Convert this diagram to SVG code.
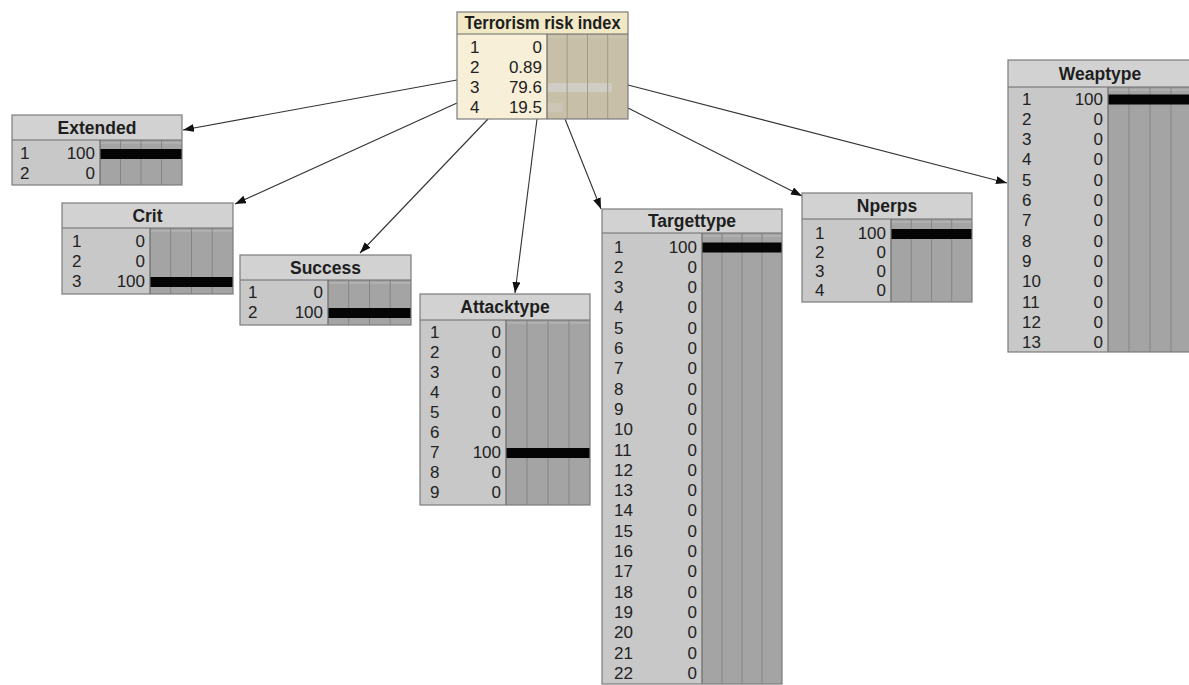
<svg xmlns="http://www.w3.org/2000/svg" width="1189" height="685" viewBox="0 0 1189 685">
<defs>
<marker id="ah" markerUnits="userSpaceOnUse" markerWidth="12" markerHeight="10" refX="11" refY="4" orient="auto">
<path d="M0,0 L11,4 L0,8 z" fill="#111"/>
</marker>
<style>
.t{font-family:"Liberation Sans",Arial,sans-serif;font-weight:bold;font-size:17.5px;text-anchor:middle;fill:#1e1e1e}
.s{font-family:"Liberation Sans",Arial,sans-serif;font-size:17px;fill:#222}
.v{font-family:"Liberation Sans",Arial,sans-serif;font-size:17px;fill:#222;text-anchor:end}
.hd{fill:#d2d2d2}
.bd{fill:#c8c8c8}
.bar{fill:#a4a4a4}
.hd2{fill:#f1e8c6}
.bd2{fill:#f7efd7}
.bar2{fill:#c7bfa7}
.g{stroke:#858585;stroke-width:1}
.top{stroke:#bcbcbc;stroke-width:1}
.sep{stroke:#6a6a6a;stroke-width:1.2}
.fr{fill:none;stroke:#7c7c7c;stroke-width:1.2}
.full{fill:#050505}
.lt{fill:#d0cdc6}
.edge{stroke:#333;stroke-width:1.1;fill:none;marker-end:url(#ah)}
</style>
</defs>
<rect width="1189" height="685" fill="#ffffff"/>

<g id="connectors">
<line class="edge" x1="457" y1="80" x2="183" y2="130"/>
<line class="edge" x1="457" y1="103" x2="235" y2="204"/>
<line class="edge" x1="488" y1="119" x2="360" y2="253"/>
<line class="edge" x1="537" y1="119" x2="515" y2="293"/>
<line class="edge" x1="565" y1="119" x2="601" y2="209"/>
<line class="edge" x1="628" y1="108" x2="802" y2="196"/>
<line class="edge" x1="628" y1="85" x2="1007" y2="183"/>
</g>

<g id="terrorism-risk-index">
<rect x="457" y="12" width="171" height="107" class="bd2"/>
<rect x="457" y="12" width="171" height="22" class="hd2"/>
<rect x="547" y="34" width="81" height="85" class="bar2"/>
<line class="top" x1="547" y1="37" x2="628" y2="37" style="stroke:#d2cbb6"/>
<rect x="547" y="83" width="64.5" height="9" class="lt"/>
<rect x="547" y="103" width="15.8" height="9" class="lt" style="opacity:0.5"/>
<line class="g" x1="567.2" y1="34" x2="567.2" y2="119" style="stroke:#a39b85"/>
<line class="g" x1="587.5" y1="34" x2="587.5" y2="119" style="stroke:#a39b85"/>
<line class="g" x1="607.7" y1="34" x2="607.7" y2="119" style="stroke:#a39b85"/>
<line class="sep" x1="457" y1="34" x2="628" y2="34"/>
<line class="sep" x1="547" y1="34" x2="547" y2="119"/>
<rect x="457" y="12" width="171" height="107" class="fr"/>
<text class="t" x="542.5" y="29" textLength="156" lengthAdjust="spacingAndGlyphs">Terrorism risk index</text>
<text class="s" x="470" y="53">1</text><text class="v" x="542" y="53">0</text>
<text class="s" x="470" y="73">2</text><text class="v" x="542" y="73">0.89</text>
<text class="s" x="470" y="93">3</text><text class="v" x="542" y="93">79.6</text>
<text class="s" x="470" y="113">4</text><text class="v" x="542" y="113">19.5</text>
</g>

<g id="extended">
<rect x="12" y="115" width="170" height="70" class="bd"/>
<rect x="12" y="115" width="170" height="25" class="hd"/>
<rect x="100" y="140" width="82" height="45" class="bar"/>
<line class="top" x1="100" y1="143" x2="182" y2="143"/>
<line class="g" x1="120.5" y1="140" x2="120.5" y2="185"/>
<line class="g" x1="141" y1="140" x2="141" y2="185"/>
<line class="g" x1="161.5" y1="140" x2="161.5" y2="185"/>
<rect x="100" y="149" width="82" height="10" class="full"/>
<line class="sep" x1="12" y1="140" x2="182" y2="140"/>
<line class="sep" x1="100" y1="140" x2="100" y2="185"/>
<rect x="12" y="115" width="170" height="70" class="fr"/>
<text class="t" x="97" y="133.5">Extended</text>
<text class="s" x="20" y="159">1</text><text class="v" x="95" y="159">100</text>
<text class="s" x="20" y="179">2</text><text class="v" x="95" y="179">0</text>
</g>

<g id="crit">
<rect x="62" y="203" width="171" height="91" class="bd"/>
<rect x="62" y="203" width="171" height="25" class="hd"/>
<rect x="150" y="228" width="83" height="66" class="bar"/>
<line class="top" x1="150" y1="231" x2="233" y2="231"/>
<line class="g" x1="170.7" y1="228" x2="170.7" y2="294"/>
<line class="g" x1="191.5" y1="228" x2="191.5" y2="294"/>
<line class="g" x1="212.2" y1="228" x2="212.2" y2="294"/>
<rect x="150" y="277" width="83" height="10" class="full"/>
<line class="sep" x1="62" y1="228" x2="233" y2="228"/>
<line class="sep" x1="150" y1="228" x2="150" y2="294"/>
<rect x="62" y="203" width="171" height="91" class="fr"/>
<text class="t" x="147.5" y="221.5">Crit</text>
<text class="s" x="72" y="247">1</text><text class="v" x="145" y="247">0</text>
<text class="s" x="72" y="267">2</text><text class="v" x="145" y="267">0</text>
<text class="s" x="72" y="287">3</text><text class="v" x="145" y="287">100</text>
</g>

<g id="success">
<rect x="240" y="255" width="171" height="70" class="bd"/>
<rect x="240" y="255" width="171" height="25" class="hd"/>
<rect x="328" y="280" width="83" height="45" class="bar"/>
<line class="top" x1="328" y1="283" x2="411" y2="283"/>
<line class="g" x1="348.7" y1="280" x2="348.7" y2="325"/>
<line class="g" x1="369.5" y1="280" x2="369.5" y2="325"/>
<line class="g" x1="390.2" y1="280" x2="390.2" y2="325"/>
<rect x="328" y="308" width="83" height="10" class="full"/>
<line class="sep" x1="240" y1="280" x2="411" y2="280"/>
<line class="sep" x1="328" y1="280" x2="328" y2="325"/>
<rect x="240" y="255" width="171" height="70" class="fr"/>
<text class="t" x="325.5" y="273.5">Success</text>
<text class="s" x="248" y="298">1</text><text class="v" x="323" y="298">0</text>
<text class="s" x="248" y="318">2</text><text class="v" x="323" y="318">100</text>
</g>

<g id="attacktype">
<rect x="420" y="294" width="170" height="211" class="bd"/>
<rect x="420" y="294" width="170" height="26" class="hd"/>
<rect x="506" y="320" width="84" height="185" class="bar"/>
<line class="top" x1="506" y1="323" x2="590" y2="323"/>
<line class="g" x1="527" y1="320" x2="527" y2="505"/>
<line class="g" x1="548" y1="320" x2="548" y2="505"/>
<line class="g" x1="569" y1="320" x2="569" y2="505"/>
<rect x="506" y="448" width="84" height="10" class="full"/>
<line class="sep" x1="420" y1="320" x2="590" y2="320"/>
<line class="sep" x1="506" y1="320" x2="506" y2="505"/>
<rect x="420" y="294" width="170" height="211" class="fr"/>
<text class="t" x="505" y="313">Attacktype</text>
<text class="s" x="430" y="338">1</text><text class="v" x="501" y="338">0</text>
<text class="s" x="430" y="358">2</text><text class="v" x="501" y="358">0</text>
<text class="s" x="430" y="378">3</text><text class="v" x="501" y="378">0</text>
<text class="s" x="430" y="398">4</text><text class="v" x="501" y="398">0</text>
<text class="s" x="430" y="418">5</text><text class="v" x="501" y="418">0</text>
<text class="s" x="430" y="438">6</text><text class="v" x="501" y="438">0</text>
<text class="s" x="430" y="458">7</text><text class="v" x="501" y="458">100</text>
<text class="s" x="430" y="478">8</text><text class="v" x="501" y="478">0</text>
<text class="s" x="430" y="498">9</text><text class="v" x="501" y="498">0</text>
</g>

<g id="targettype">
<rect x="602" y="209" width="180" height="475" class="bd"/>
<rect x="602" y="209" width="180" height="24" class="hd"/>
<rect x="702" y="233" width="80" height="451" class="bar"/>
<line class="top" x1="702" y1="236" x2="782" y2="236"/>
<line class="g" x1="722" y1="233" x2="722" y2="684"/>
<line class="g" x1="742" y1="233" x2="742" y2="684"/>
<line class="g" x1="762" y1="233" x2="762" y2="684"/>
<rect x="702" y="242.5" width="80" height="10" class="full"/>
<line class="sep" x1="602" y1="233" x2="782" y2="233"/>
<line class="sep" x1="702" y1="233" x2="702" y2="684"/>
<rect x="602" y="209" width="180" height="475" class="fr"/>
<text class="t" x="692" y="227">Targettype</text>
<text class="s" x="614" y="252.5">1</text><text class="v" x="697" y="252.5">100</text>
<text class="s" x="614" y="272.8">2</text><text class="v" x="697" y="272.8">0</text>
<text class="s" x="614" y="293.1">3</text><text class="v" x="697" y="293.1">0</text>
<text class="s" x="614" y="313.4">4</text><text class="v" x="697" y="313.4">0</text>
<text class="s" x="614" y="333.7">5</text><text class="v" x="697" y="333.7">0</text>
<text class="s" x="614" y="354">6</text><text class="v" x="697" y="354">0</text>
<text class="s" x="614" y="374.3">7</text><text class="v" x="697" y="374.3">0</text>
<text class="s" x="614" y="394.6">8</text><text class="v" x="697" y="394.6">0</text>
<text class="s" x="614" y="414.9">9</text><text class="v" x="697" y="414.9">0</text>
<text class="s" x="614" y="435.2">10</text><text class="v" x="697" y="435.2">0</text>
<text class="s" x="614" y="455.5">11</text><text class="v" x="697" y="455.5">0</text>
<text class="s" x="614" y="475.8">12</text><text class="v" x="697" y="475.8">0</text>
<text class="s" x="614" y="496.1">13</text><text class="v" x="697" y="496.1">0</text>
<text class="s" x="614" y="516.4">14</text><text class="v" x="697" y="516.4">0</text>
<text class="s" x="614" y="536.7">15</text><text class="v" x="697" y="536.7">0</text>
<text class="s" x="614" y="557">16</text><text class="v" x="697" y="557">0</text>
<text class="s" x="614" y="577.3">17</text><text class="v" x="697" y="577.3">0</text>
<text class="s" x="614" y="597.6">18</text><text class="v" x="697" y="597.6">0</text>
<text class="s" x="614" y="617.9">19</text><text class="v" x="697" y="617.9">0</text>
<text class="s" x="614" y="638.2">20</text><text class="v" x="697" y="638.2">0</text>
<text class="s" x="614" y="658.5">21</text><text class="v" x="697" y="658.5">0</text>
<text class="s" x="614" y="678.8">22</text><text class="v" x="697" y="678.8">0</text>
</g>

<g id="nperps">
<rect x="802" y="193" width="170" height="109" class="bd"/>
<rect x="802" y="193" width="170" height="26" class="hd"/>
<rect x="891" y="219" width="81" height="83" class="bar"/>
<line class="top" x1="891" y1="222" x2="972" y2="222"/>
<line class="g" x1="911.2" y1="219" x2="911.2" y2="302"/>
<line class="g" x1="931.5" y1="219" x2="931.5" y2="302"/>
<line class="g" x1="951.7" y1="219" x2="951.7" y2="302"/>
<rect x="891" y="229" width="81" height="10" class="full"/>
<line class="sep" x1="802" y1="219" x2="972" y2="219"/>
<line class="sep" x1="891" y1="219" x2="891" y2="302"/>
<rect x="802" y="193" width="170" height="109" class="fr"/>
<text class="t" x="887" y="212">Nperps</text>
<text class="s" x="815" y="239">1</text><text class="v" x="886" y="239">100</text>
<text class="s" x="815" y="258">2</text><text class="v" x="886" y="258">0</text>
<text class="s" x="815" y="277">3</text><text class="v" x="886" y="277">0</text>
<text class="s" x="815" y="296">4</text><text class="v" x="886" y="296">0</text>
</g>

<g id="weaptype">
<rect x="1008" y="60" width="184" height="292" class="bd"/>
<rect x="1008" y="60" width="184" height="27" class="hd"/>
<rect x="1108" y="87" width="84" height="265" class="bar"/>
<line class="top" x1="1108" y1="90" x2="1192" y2="90"/>
<line class="g" x1="1129" y1="87" x2="1129" y2="352"/>
<line class="g" x1="1150" y1="87" x2="1150" y2="352"/>
<line class="g" x1="1171" y1="87" x2="1171" y2="352"/>
<rect x="1108" y="94.5" width="84" height="10" class="full"/>
<line class="sep" x1="1008" y1="87" x2="1192" y2="87"/>
<line class="sep" x1="1108" y1="87" x2="1108" y2="352"/>
<rect x="1008" y="60" width="184" height="292" class="fr"/>
<text class="t" x="1100" y="79.5">Weaptype</text>
<text class="s" x="1022" y="104.5">1</text><text class="v" x="1103" y="104.5">100</text>
<text class="s" x="1022" y="124.8">2</text><text class="v" x="1103" y="124.8">0</text>
<text class="s" x="1022" y="145.1">3</text><text class="v" x="1103" y="145.1">0</text>
<text class="s" x="1022" y="165.4">4</text><text class="v" x="1103" y="165.4">0</text>
<text class="s" x="1022" y="185.7">5</text><text class="v" x="1103" y="185.7">0</text>
<text class="s" x="1022" y="206">6</text><text class="v" x="1103" y="206">0</text>
<text class="s" x="1022" y="226.3">7</text><text class="v" x="1103" y="226.3">0</text>
<text class="s" x="1022" y="246.6">8</text><text class="v" x="1103" y="246.6">0</text>
<text class="s" x="1022" y="266.9">9</text><text class="v" x="1103" y="266.9">0</text>
<text class="s" x="1022" y="287.2">10</text><text class="v" x="1103" y="287.2">0</text>
<text class="s" x="1022" y="307.5">11</text><text class="v" x="1103" y="307.5">0</text>
<text class="s" x="1022" y="327.8">12</text><text class="v" x="1103" y="327.8">0</text>
<text class="s" x="1022" y="348.1">13</text><text class="v" x="1103" y="348.1">0</text>
</g>
</svg>
